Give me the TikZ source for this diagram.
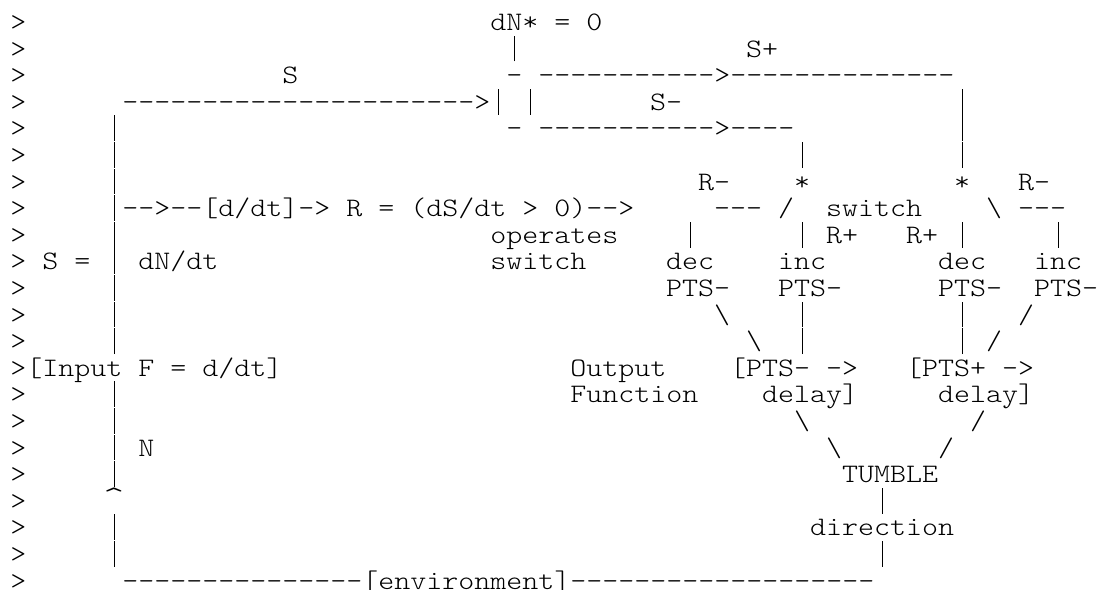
\documentclass[tikz,border=0pt]{standalone}
\usepackage{fontspec}
\setmonofont{lmmonolt10-regular.otf}[FakeStretch=1.1429]
\tikzstyle{txt} = [anchor=base west, inner sep=0pt, font=\ttfamily\fontsize{20pt}{20pt}\selectfont]
\tikzstyle{tip} = [anchor=base, inner sep=0pt, font=\ttfamily\fontsize{26pt}{26pt}\selectfont]
% a bar that fills its whole line, so bars in a column join up
\newcommand{\vbar}{\makebox[0.6em]{\rule[-0.16em]{0.045em}{0.97em}}}

\begin{document}
\begin{tikzpicture}[x=12pt, y=-19.95pt]

	\fill[white] (-0.625,-1.15) rectangle (67.94,21.03);
	\useasboundingbox (-0.625,-1.15) rectangle (67.94,21.03);

	% quote marks and the N line down the left
	\foreach \r in {0,...,21} \node[txt] (quote\r) at (0,\r) {>};
	\foreach \r in {4,...,12,14,15,16,17,19,20} \node[txt] (nline\r) at (6,\r) {\vbar};
	\node[tip] (nhead) at (6.5,18.0) {\textasciicircum};
	\node[txt] (nlabel) at (8,16) {N};

	\node[txt] (dnstar) at (30,0) {dN* = 0};
	\node[txt] (dnbar) at (31,1) {\vbar};
	\node[txt] (splus) at (46,1) {S+};
	\node[txt] (slabel) at (17,2) {S};
	\node[txt] (topcap) at (31,2) {-};
	\node[txt] (splusline) at (33,2) {----------->--------------};
	\node[txt] (sline) at (7,3) {---------------------->};
	\node[txt] (gate) at (30,3) {\vbar{} \vbar};
	\node[txt] (sminus) at (40,3) {S-};
	\node[txt] (botcap) at (31,4) {-};
	\node[txt] (sminusline) at (33,4) {----------->----};
	\foreach \r in {3,4,5} \node[txt] (splusbar\r) at (59,\r) {\vbar};
	\node[txt] (sminusbar) at (49,5) {\vbar};

	\node[txt] (rminusl) at (43,6) {R-};
	\node[txt] (starl) at (49,6) {*};
	\node[txt] (starr) at (59,6) {*};
	\node[txt] (rminusr) at (63,6) {R-};

	\node[txt] (ddt) at (7,7) {-->--[d/dt]-> R = (dS/dt > 0)-->};
	\node[txt] (swl) at (44,7) {--- /};
	\node[txt] (switch) at (51,7) {switch};
	\node[txt] (swr) at (61,7) {\textbackslash{} ---};

	\node[txt] (operates) at (30,8) {operates};
	\node[txt] (decbarl) at (42,8) {\vbar};
	\node[txt] (incbarl) at (49,8) {\vbar{} R+};
	\node[txt] (decbarr) at (56,8) {R+ \vbar};
	\node[txt] (incbarr) at (65,8) {\vbar};

	\node[txt] (seq) at (2,9) {S =};
	\node[txt] (dndt) at (8,9) {dN/dt};
	\node[txt] (opswitch) at (30,9) {switch};
	\node[txt] (decl) at (41,9) {dec};
	\node[txt] (incl) at (48,9) {inc};
	\node[txt] (decr) at (58,9) {dec};
	\node[txt] (incr) at (64,9) {inc};
	\node[txt] (ptsdecl) at (41,10) {PTS-};
	\node[txt] (ptsincl) at (48,10) {PTS-};
	\node[txt] (ptsdecr) at (58,10) {PTS-};
	\node[txt] (ptsincr) at (64,10) {PTS-};

	\node[txt] (slashl1) at (44,11) {\textbackslash};
	\node[txt] (slashl2) at (46,12) {\textbackslash};
	\foreach \r in {11,12} {
		\node[txt] (barl\r) at (49,\r) {\vbar};
		\node[txt] (barr\r) at (59,\r) {\vbar};
	}
	\node[txt] (slashr1) at (63,11) {/};
	\node[txt] (slashr2) at (61,12) {/};

	\node[txt] (input) at (1,13) {[Input F = d/dt]};
	\node[txt] (output) at (35,13) {Output};
	\node[txt] (function) at (35,14) {Function};
	\node[txt] (delayl) at (45,13) {[PTS- ->};
	\node[txt] (delaylb) at (47,14) {delay]};
	\node[txt] (delayr) at (56,13) {[PTS+ ->};
	\node[txt] (delayrb) at (58,14) {delay]};

	\node[txt] (tumblel1) at (49,15) {\textbackslash};
	\node[txt] (tumblel2) at (51,16) {\textbackslash};
	\node[txt] (tumbler1) at (60,15) {/};
	\node[txt] (tumbler2) at (58,16) {/};
	\node[txt] (tumble) at (52,17) {TUMBLE};
	\node[txt] (tumblebar) at (54,18) {\vbar};
	\node[txt] (direction) at (50,19) {direction};
	\node[txt] (dirbar) at (54,20) {\vbar};

	\node[txt] (environment) at (7,21) {---------------[environment]-------------------};

\end{tikzpicture}
\end{document}
